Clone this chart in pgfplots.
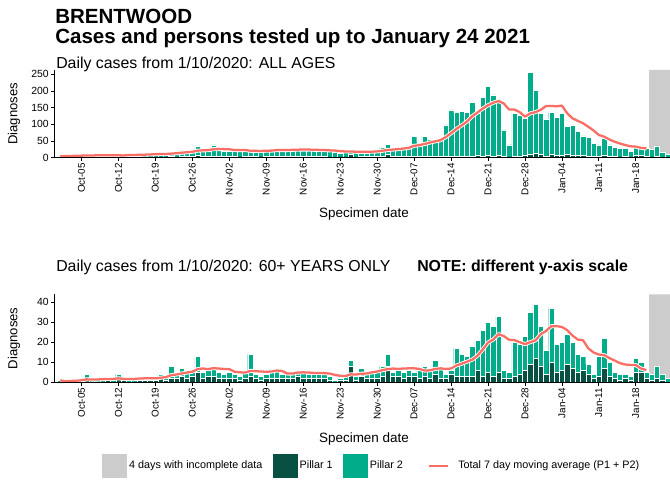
\documentclass[border=0pt]{standalone}
\usepackage{fontspec}
\setmainfont{Liberation Sans}
\usepackage{pgfplots}
\usepackage{pgfplotstable}
\pgfplotsset{compat=1.18}

\definecolor{ptwo}{RGB}{0,172,138}
\definecolor{pone}{RGB}{8,80,66}
\definecolor{incgrey}{RGB}{204,204,204}
\definecolor{maline}{RGB}{248,110,100}

% ALL AGES: day (0 = 1 Oct 2020), pillar 1, total (P1+P2)
\pgfplotstableread{
day p1 total
0 0 4
1 1 6
2 0 5
3 1 8
4 1 7
5 1 9
6 0 8
7 1 6
8 0 5
9 1 7
10 1 6
11 2 8
12 1 7
13 1 15
14 1 9
15 1 8
16 2 10
17 1 11
18 2 12
19 2 13
20 2 14
21 3 16
22 2 18
23 3 20
24 3 21
25 4 22
26 6 35
27 3 22
28 4 20
29 4 38
30 3 22
31 3 20
32 3 18
33 3 21
34 2 19
35 3 23
36 4 22
37 3 20
38 2 18
39 3 24
40 3 22
41 3 30
42 3 24
43 3 22
44 3 25
45 4 21
46 3 26
47 3 23
48 3 24
49 3 22
50 3 19
51 2 18
52 1 17
53 2 14
54 2 16
55 9 25
56 2 15
57 4 18
58 3 17
59 3 20
60 3 20
61 4 30
62 9 40
63 4 25
64 4 27
65 3 30
66 4 33
67 4 63
68 3 45
69 4 64
70 3 55
71 5 52
72 3 55
73 3 98
74 5 143
75 4 135
76 4 138
77 4 135
78 4 165
79 8 133
80 4 181
81 6 213
82 4 188
83 6 173
84 3 83
85 2 38
86 4 133
87 5 128
88 7 118
89 11 255
90 14 201
91 10 133
92 5 115
93 11 135
94 6 121
95 7 133
96 10 93
97 8 97
98 6 78
99 7 65
100 5 61
101 3 43
102 4 38
103 8 58
104 4 38
105 3 31
106 2 28
107 3 28
108 2 18
109 6 31
110 6 31
111 3 28
112 2 25
113 3 35
114 2 15
115 1 10
}\toptab

\pgfplotstableread{
day ma
0 4
1 5
2 5
3 5.8
4 6
5 6.5
6 6.7
7 7.0
8 6.9
9 7.1
10 6.9
11 7.0
12 6.7
13 7.7
14 8.1
15 8.6
16 9.0
17 9.7
18 10.3
19 11.1
20 11.0
21 12.0
22 13.4
23 14.9
24 16.3
25 17.7
26 20.9
27 22.0
28 22.6
29 25.4
30 25.7
31 25.6
32 25.0
33 23.0
34 22.6
35 23.0
36 20.7
37 20.4
38 20.1
39 21.0
40 21.1
41 22.7
42 22.9
43 22.9
44 23.6
45 24.0
46 24.3
47 24.4
48 23.6
49 23.3
50 22.9
51 21.9
52 21.3
53 19.6
54 18.6
55 18.7
56 17.7
57 17.6
58 17.4
59 17.9
60 18.7
61 20.7
62 22.9
63 24.3
64 25.6
65 27.4
66 29.3
67 35.4
68 37.6
69 41.0
70 45.3
71 48.9
72 52.4
73 61.7
74 73.1
75 86.0
76 96.6
77 108.0
78 124.1
79 135.3
80 147.1
81 157.1
82 164.7
83 169.7
84 162.3
85 144.1
86 144.1
87 136.6
88 123.0
89 132.6
90 136.6
91 143.7
92 154.7
93 155.0
94 154.0
95 156.1
96 133.0
97 118.1
98 110.3
99 103.1
100 92.6
101 81.4
102 67.9
103 62.9
104 54.4
105 47.7
106 42.4
107 37.7
108 34.1
109 33.1
110 29.3
111 27.9
}\topma

% 60+ YEARS
\pgfplotstableread{
day p1 total
0 0 1
1 0 0
2 0 1
3 0 1
4 1 2
5 1 4
6 0 1
7 0 1
8 0 1
9 1 2
10 0 1
11 2 4
12 1 2
13 0 1
14 0 1
15 1 2
16 1 3
17 1 2
18 1 3
19 2 4
20 1 3
21 2 8
22 2 4
23 3 7
24 2 5
25 3 6
26 5 13
27 2 5
28 3 6
29 3 8
30 2 5
31 2 4
32 2 5
33 2 4
34 1 3
35 2 5
36 3 14
37 2 4
38 1 3
39 2 4
40 2 5
41 2 6
42 2 4
43 2 5
44 2 4
45 3 6
46 2 5
47 2 4
48 2 5
49 2 4
50 2 4
51 1 3
52 0 1
53 1 2
54 1 3
55 8 11
56 1 3
57 3 7
58 2 4
59 2 5
60 2 5
61 3 8
62 8 14
63 3 5
64 3 6
65 2 5
66 3 6
67 3 5
68 2 6
69 3 8
70 2 6
71 4 11
72 2 7
73 2 4
74 4 6
75 3 17
76 3 14
77 3 13
78 3 18
79 6 21
80 3 26
81 5 30
82 3 28
83 5 33
84 2 6
85 2 5
86 3 20
87 4 19
88 6 23
89 9 35
90 12 39
91 8 28
92 4 16
93 10 37
94 5 19
95 6 20
96 9 24
97 7 20
98 5 14
99 6 13
100 4 9
101 2 4
102 3 13
103 7 22
104 3 10
105 2 5
106 1 4
107 2 4
108 1 3
109 5 12
110 5 10
111 2 5
112 1 4
113 2 8
114 1 4
115 0 2
}\bottab

\pgfplotstableread{
day ma
0 1.0
1 0.5
2 0.7
3 0.8
4 1.0
5 1.5
6 1.4
7 1.4
8 1.6
9 1.7
10 1.7
11 2.0
12 1.7
13 1.7
14 1.7
15 1.9
16 2.0
17 2.1
18 2.0
19 2.3
20 2.6
21 3.6
22 3.9
23 4.4
24 4.9
25 5.3
26 6.6
27 6.9
28 6.6
29 7.1
30 6.9
31 6.7
32 6.6
33 5.3
34 5.0
35 4.9
36 5.7
37 5.6
38 5.4
39 5.3
40 5.4
41 5.9
42 5.7
43 4.4
44 4.4
45 4.9
46 5.0
47 4.9
48 4.7
49 4.7
50 4.6
51 4.4
52 3.7
53 3.3
54 3.1
55 4.0
56 3.9
57 4.3
58 4.4
59 5.0
60 5.4
61 6.1
62 6.6
63 6.9
64 6.7
65 6.9
66 7.0
67 7.0
68 6.7
69 5.9
70 6.0
71 6.7
72 7.0
73 6.7
74 6.9
75 8.4
76 9.3
77 10.3
78 11.3
79 13.3
80 16.4
81 19.9
82 21.4
83 24.1
84 23.1
85 21.3
86 21.1
87 20.1
88 19.1
89 20.1
90 21.0
91 24.1
92 25.7
93 28.1
94 28.1
95 27.7
96 26.1
97 23.4
98 21.4
99 21.0
100 17.0
101 14.9
102 13.9
103 13.6
104 12.1
105 10.9
106 9.6
107 8.9
108 8.7
109 8.6
110 6.9
111 6.1
}\botma

\pgfplotsset{
  panel/.style={
    scale only axis, width=461.8pt, height=65.8pt,
    xmin=-1.14, xmax=115.47, ymin=0,
    axis x line*=bottom, axis y line*=left,
    axis line style={black, line width=0.6pt},
    tick style={black, line width=0.6pt},
    tick align=outside, major tick length=2.5pt,
    axis on top,
    xtick={4,11,18,25,32,39,46,53,60,67,74,81,88,95,102,109},
    xticklabels={Oct-05,Oct-12,Oct-19,Oct-26,Nov-02,Nov-09,Nov-16,Nov-23,Nov-30,Dec-07,Dec-14,Dec-21,Dec-28,Jan-04,Jan-11,Jan-18},
    x tick label style={rotate=90, anchor=east, font=\fontsize{7.4}{8}\selectfont, inner sep=1.5pt},
    y tick label style={font=\fontsize{7.8}{9}\selectfont, inner sep=1.5pt},
    /pgf/number format/assume math mode=true,
    ylabel={Diagnoses},
    ylabel style={at={(axis description cs:-0.0655,0.5)}, anchor=center, font=\fontsize{9.8}{11}\selectfont},
    xlabel={Specimen date},
    xlabel style={at={(axis description cs:0.503,-0.64)}, anchor=center, font=\fontsize{10.1}{12}\selectfont},
  },
  barp2/.style={ybar, bar width=1, bar shift=0pt, fill=ptwo, draw=white, line width=0.25pt, forget plot},
  barp1/.style={ybar, bar width=1, bar shift=0pt, fill=pone, draw=white, line width=0.25pt, forget plot},
  halo/.style={white, line width=3pt, no markers, forget plot, line join=round},
  maplot/.style={maline, line width=1.7pt, no markers, forget plot, line join=round},
}

\begin{document}
\begin{tikzpicture}
\useasboundingbox (0,0) rectangle (502.5pt,363.75pt);

\node[anchor=base west, font=\bfseries\fontsize{15.4}{17}\selectfont, inner sep=0pt] at (41.25pt,346pt) {BRENTWOOD};
\node[anchor=base west, font=\bfseries\fontsize{15.4}{17}\selectfont, inner sep=0pt] at (41.25pt,331pt) {Cases and persons tested up to January 24 2021};
\node[anchor=base west, font=\fontsize{11.9}{13}\selectfont, inner sep=0pt] at (42pt,312.4pt) {Daily cases from 1/10/2020: ALL AGES};
\node[anchor=base west, font=\fontsize{11.9}{13}\selectfont, inner sep=0pt] at (42pt,160pt) {Daily cases from 1/10/2020: 60+ YEARS ONLY};
\node[anchor=base west, font=\bfseries\fontsize{11.9}{13}\selectfont, inner sep=0pt] at (312.75pt,160pt) {NOTE: different y-axis scale};

\begin{axis}[panel, at={(40.7pt,245.5pt)}, anchor=south west,
  ymax=263, ytick={0,50,100,150,200,250}]
  \addplot[fill=incgrey, draw=none, forget plot] coordinates {(111.5,0) (111.5,263) (115.5,263) (115.5,0)} \closedcycle;
  \addplot[barp2] table[x=day, y=total] {\toptab};
  \addplot[barp1] table[x=day, y=p1] {\toptab};
  \addplot[halo] table[x=day, y=ma] {\topma};
  \addplot[maplot] table[x=day, y=ma] {\topma};
\end{axis}

\begin{axis}[panel, at={(40.7pt,77pt)}, anchor=south west, height=66pt,
  ymax=44, ytick={0,10,20,30,40},
  legend style={at={(axis description cs:0.516,-0.951)}, anchor=center, draw=none, fill=none,
    font=\fontsize{8.1}{9}\selectfont, legend columns=4,
    /tikz/every odd column/.append style={column sep=0pt},
    /tikz/every even column/.append style={column sep=5.5pt}},
  legend cell align=left]
  \addplot[fill=incgrey, draw=none, forget plot] coordinates {(111.5,0) (111.5,44) (115.5,44) (115.5,0)} \closedcycle;
  \addplot[barp2] table[x=day, y=total] {\bottab};
  \addplot[barp1] table[x=day, y=p1] {\bottab};
  \addplot[halo] table[x=day, y=ma] {\botma};
  \addplot[maplot] table[x=day, y=ma] {\botma};

  \addlegendimage{legend image code/.code={\fill[incgrey] (0pt,-8.5pt) rectangle (18pt,8.5pt);}}
  \addlegendentry{4 days with incomplete data}
  \addlegendimage{legend image code/.code={\fill[pone] (0pt,-8.5pt) rectangle (18pt,8.5pt);}}
  \addlegendentry{Pillar 1}
  \addlegendimage{legend image code/.code={\fill[ptwo] (0pt,-8.5pt) rectangle (18pt,8.5pt);}}
  \addlegendentry{Pillar 2}
  \addlegendimage{legend image code/.code={\path[draw=none, fill=none] (0pt,0pt) rectangle (32pt,0.1pt); \draw[maline, line width=2pt] (12pt,0pt) -- (26pt,0pt);}}
  \addlegendentry{Total 7 day moving average (P1 + P2)}
\end{axis}
\end{tikzpicture}
\end{document}
